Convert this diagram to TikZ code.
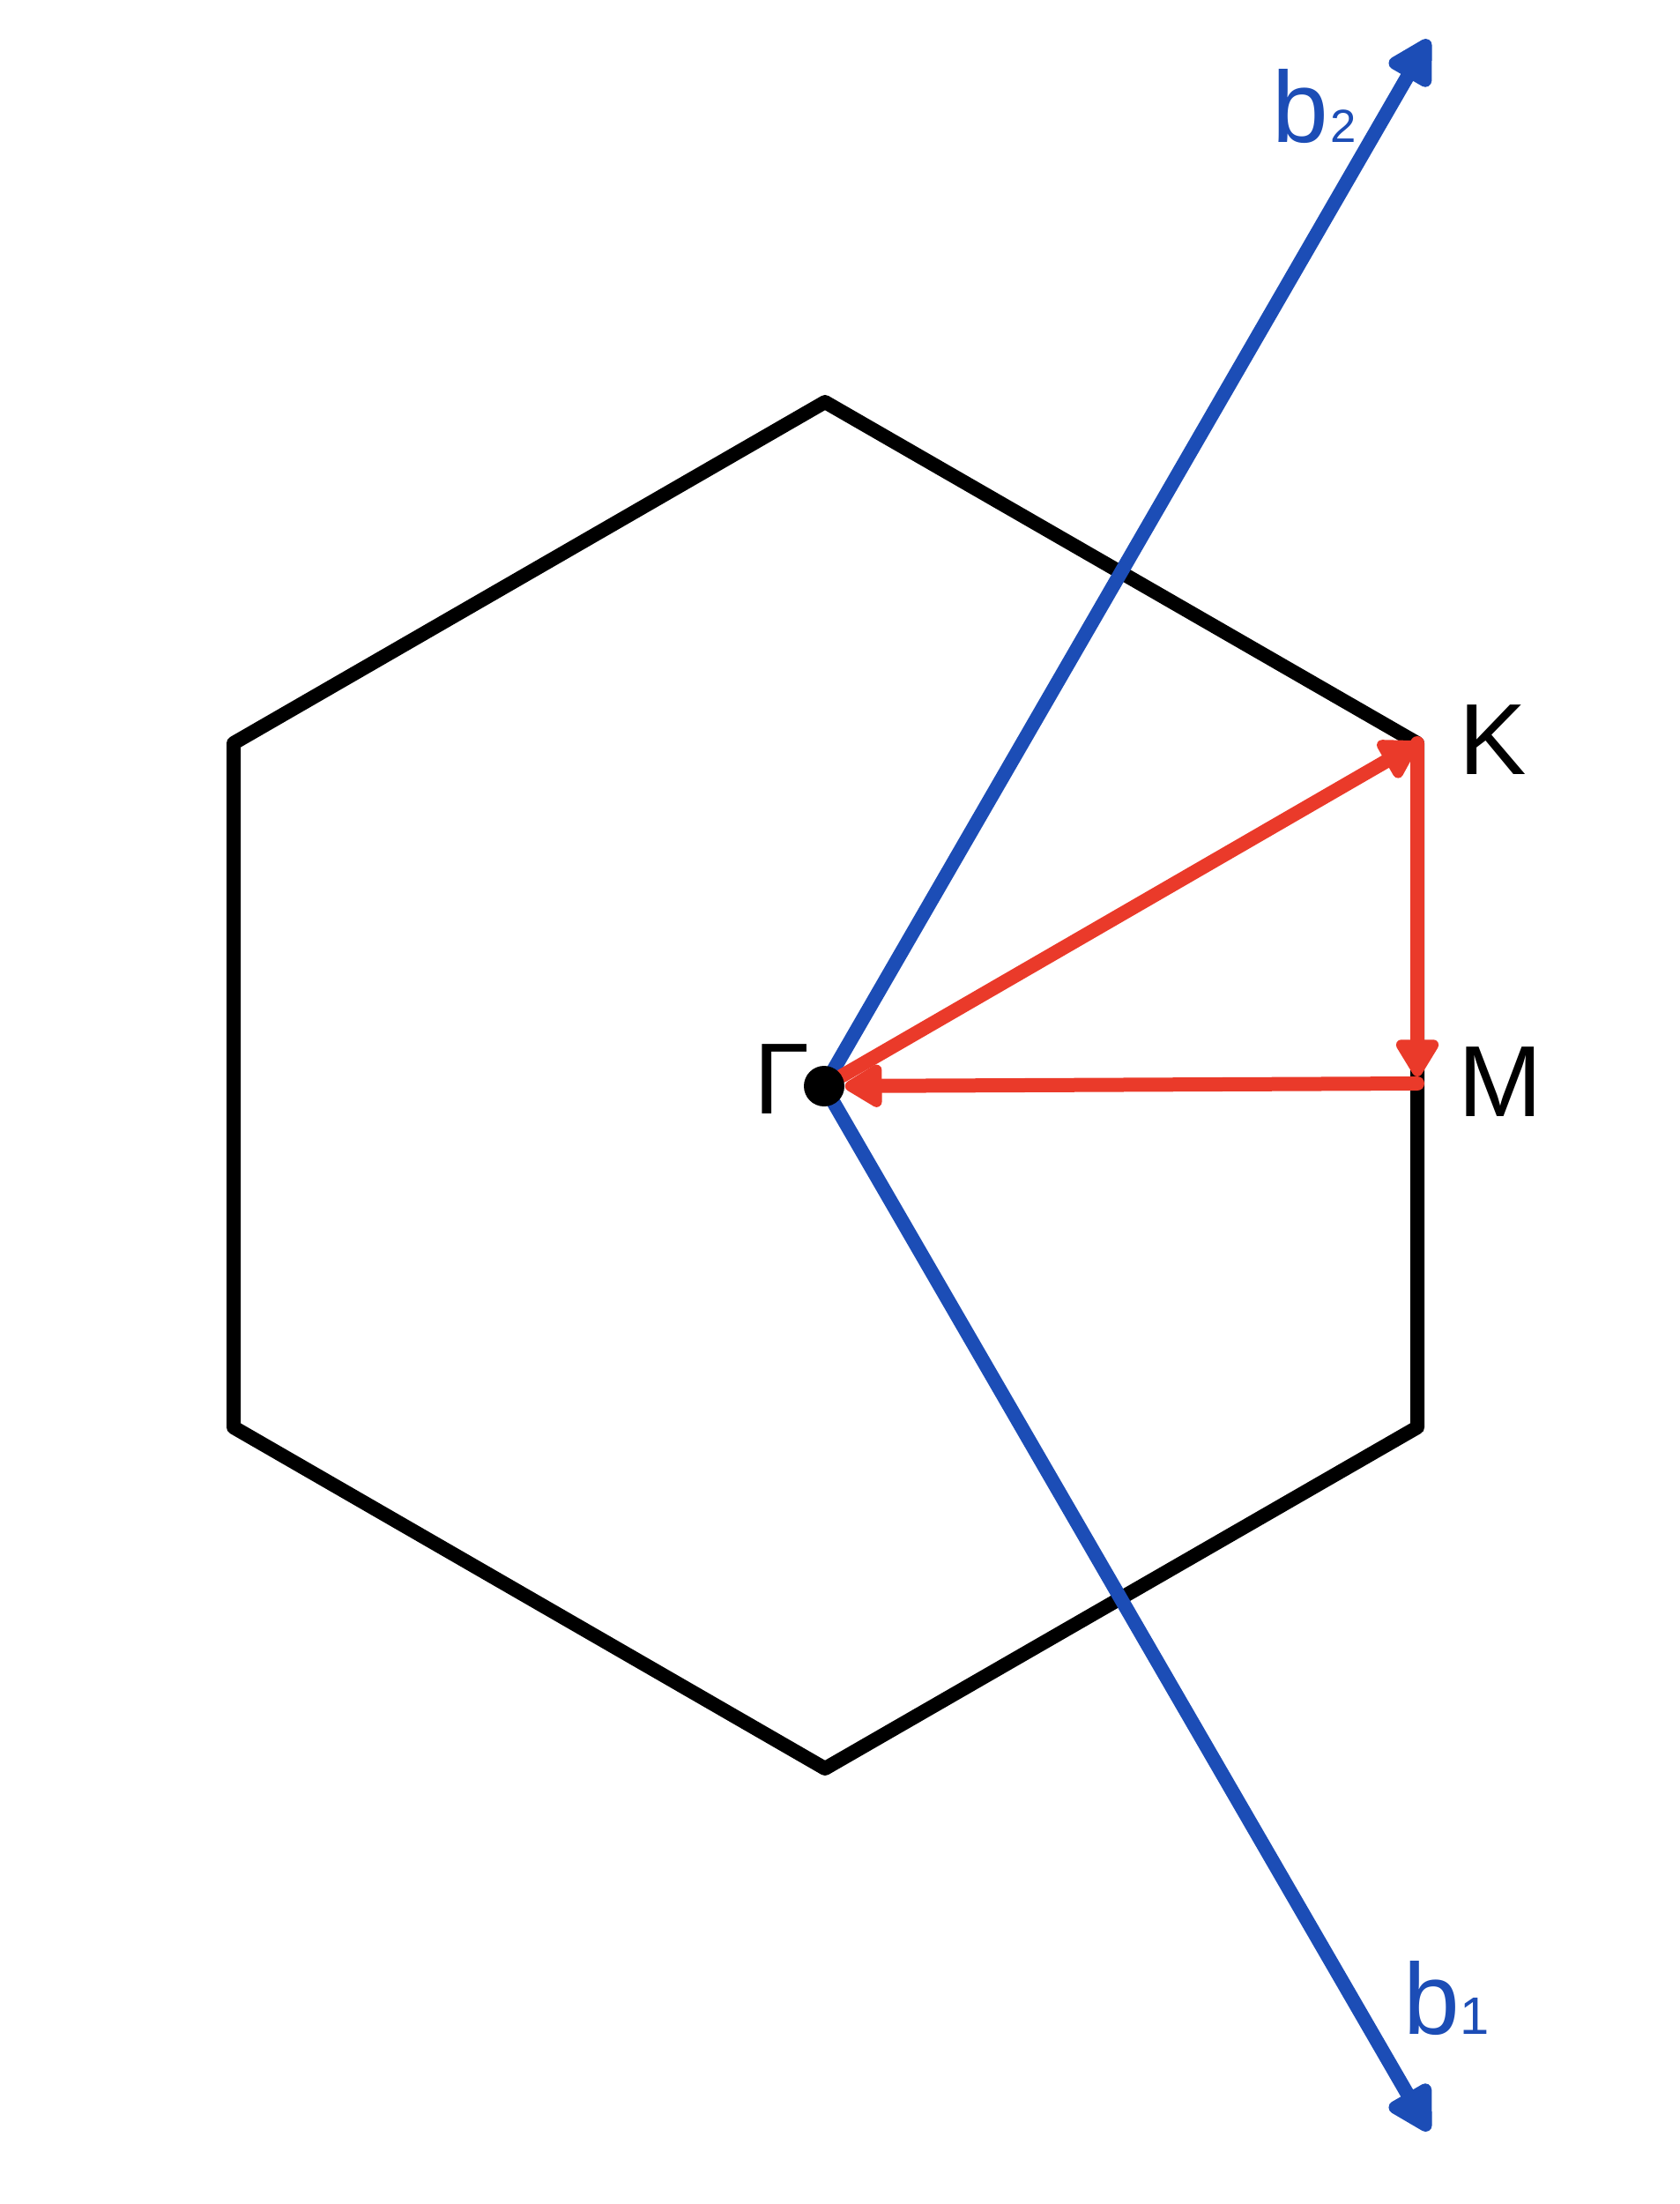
\documentclass[tikz,border=0pt]{standalone}
\usepackage{fontspec}
\setmainfont{Liberation Sans}
\usetikzlibrary{arrows.meta,backgrounds}
\definecolor{kblue}{RGB}{28,77,182}
\definecolor{kred}{RGB}{234,58,42}
\begin{document}
\begin{tikzpicture}[x=1cm,y=-1cm,
  hexline/.style={line width=0.16cm, line join=round, black},
  bvec/.style={line width=0.16cm, kblue, line cap=round, -{Triangle[length=0.58cm,width=0.6cm,round]}},
  rvec/.style={line width=0.16cm, kred, line cap=round, line join=round, -{Triangle[length=0.48cm,width=0.54cm,round]}},
  lbl/.style={inner sep=0pt, font=\fontsize{32.6}{36}\selectfont},
  gdot/.style={circle, fill=black, minimum size=0.46cm, inner sep=0pt},
  ]
\useasboundingbox (0,0) rectangle (19.05,25);
\coordinate (T) at (9.36,4.56);
\coordinate (UR) at (16.08,8.43);
\coordinate (LR) at (16.08,16.19);
\coordinate (B) at (9.36,20.06);
\coordinate (LL) at (2.65,16.19);
\coordinate (UL) at (2.65,8.43);
\coordinate (K) at (16.08,8.43);
\coordinate (M) at (16.08,12.29);
\coordinate (b2tip) at (16.21,0.45);
\coordinate (b1tip) at (16.21,24.17);
\node[gdot] (G) at (9.35,12.32) {};
\begin{pgfonlayer}{background}
\draw[hexline] (T) -- (UR) -- (LR) -- (B) -- (LL) -- (UL) -- cycle;
\draw[bvec] (G.center) -- (b2tip);
\draw[bvec] (G.center) -- (b1tip);
\draw[rvec] (G) -- (K);
\draw[rvec, shorten >=0.08cm] (K) -- (M);
\draw[rvec] (M) -- (G);
\end{pgfonlayer}
\node[lbl] (Klbl) at (16.94,8.39) {K};
\node[lbl] (Mlbl) at (17.02,12.27) {M};
\node[lbl] (Glbl) at (8.87,12.24) {Γ};
\node[lbl, kblue] (b2lbl) at (14.91,1.21) {b\kern0.03cm{\fontsize{15}{16}\selectfont 2}};
\node[lbl, kblue] (b1lbl) at (16.41,22.67) {b\kern0cm{\fontsize{17}{18}\selectfont 1}};
\end{tikzpicture}
\end{document}
